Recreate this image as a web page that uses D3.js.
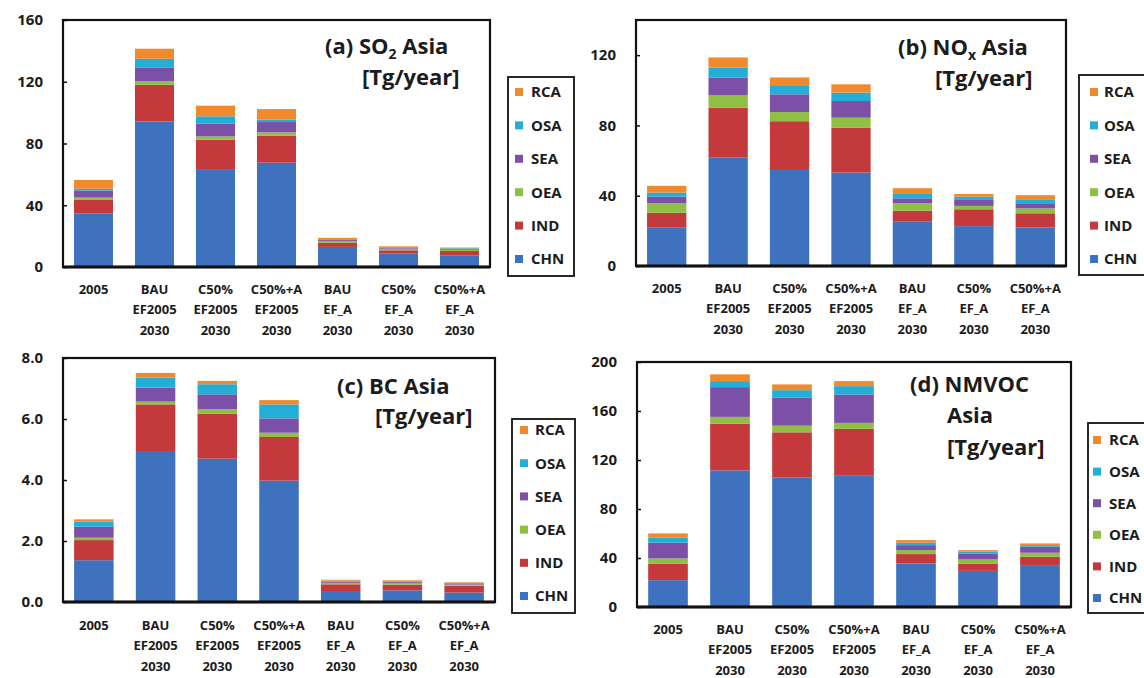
<!DOCTYPE html>
<html><head><meta charset="utf-8">
<script src="https://cdn.jsdelivr.net/npm/d3@7"></script>
<style>
body{margin:0;background:#fff}
svg{display:block}
text{font-family:"Open Sans",sans-serif;fill:#1c1c1c;font-weight:700}
</style>
</head><body>
<svg id="chart" width="1144" height="678"></svg>
<script>
// ---------- data ----------
const categories = [
  ["2005"],
  ["BAU","EF2005","2030"],
  ["C50%","EF2005","2030"],
  ["C50%+A","EF2005","2030"],
  ["BAU","EF_A","2030"],
  ["C50%","EF_A","2030"],
  ["C50%+A","EF_A","2030"]
];
const regions = ["CHN","IND","OEA","SEA","OSA","RCA"];

// segment values, one row per region (order as `regions`), one column per category
const so2Values = [
  [34.7, 94.3, 62.9, 67.6, 13.0, 8.7, 7.6],
  [ 8.7, 23.7, 19.5, 17.4,  2.6, 2.1, 2.8],
  [ 1.6,  2.3,  2.2,  2.2,  1.3, 1.1, 0.8],
  [ 4.5,  8.7,  8.2,  6.7,  0.6, 0.6, 0.5],
  [ 1.2,  5.9,  4.8,  1.5,  0.5, 0.4, 0.4],
  [ 5.7,  6.5,  6.9,  6.9,  0.9, 0.5, 0.5]
];
const noxValues = [
  [21.8, 61.8, 55.2, 53.2, 25.2, 22.7, 21.9],
  [ 8.5, 28.2, 27.2, 25.4,  6.3,  9.6,  8.1],
  [ 5.4,  7.3,  5.2,  5.8,  4.2,  1.9,  2.8],
  [ 3.8, 10.0, 10.1,  9.5,  2.8,  3.4,  2.9],
  [ 2.3,  5.7,  5.2,  4.8,  2.9,  1.9,  2.3],
  [ 3.8,  5.7,  4.4,  4.7,  2.9,  1.5,  2.3]
];
const bcValues = [
  [1.37, 4.92, 4.70, 3.98, 0.36, 0.38, 0.31],
  [0.66, 1.56, 1.48, 1.43, 0.22, 0.19, 0.22],
  [0.08, 0.09, 0.14, 0.14, 0.05, 0.04, 0.04],
  [0.36, 0.46, 0.49, 0.47, 0.04, 0.04, 0.03],
  [0.17, 0.33, 0.33, 0.46, 0.03, 0.03, 0.03],
  [0.07, 0.15, 0.11, 0.14, 0.03, 0.03, 0.02]
];
const nmvocValues = [
  [21.9, 111.5, 105.7, 107.1, 35.5, 29.5, 34.2],
  [13.6,  38.2,  36.9,  38.3,  7.7,  6.0,  6.8],
  [ 4.1,   5.5,   5.4,   4.9,  3.2,  3.3,  3.3],
  [12.9,  24.3,  22.8,  23.2,  4.1,  4.9,  4.9],
  [ 4.3,   4.9,   6.2,   6.8,  2.0,  1.4,  1.3],
  [ 3.3,   5.5,   4.7,   4.1,  2.1,  1.3,  1.4]
];

const so2Ticks = [0, 40, 80, 120, 160];
const noxTicks = [0, 40, 80, 120];
const bcTicks = [0, 2, 4, 6, 8];
const nmvocTicks = [0, 40, 80, 120, 160, 200];

// ---------- styles / layout ----------
const colors = {CHN:"#3E71BE", IND:"#C4393C", OEA:"#8FC043", SEA:"#7C50A6", OSA:"#22AED6", RCA:"#F08A2C"};

const panels = [
  {values:so2Values, ticks:so2Ticks, max:160, fmt:d3.format("d"),
   frame:{l:63,r:490,t:20,b:267}, xlab:27,
   title:[{x:325,y:54,parts:[["(a) SO",0],["2",1],[" Asia",0]]},{x:362,y:85,parts:[["[Tg/year]",0]]}],
   legend:{x:508,y:77,w:66,h:199,mx:519,tx:531,y0:92,dy:33.4}},
  {values:noxValues, ticks:noxTicks, max:140, fmt:d3.format("d"),
   frame:{l:636,r:1066,t:20,b:266}, xlab:27,
   title:[{x:898,y:55,parts:[["(b) NO",0],["x",1],[" Asia",0]]},{x:935,y:86,parts:[["[Tg/year]",0]]}],
   legend:{x:1079,y:75,w:80,h:200,mx:1094,tx:1104,y0:92,dy:33.4}},
  {values:bcValues, ticks:bcTicks, max:8, fmt:d3.format(".1f"),
   frame:{l:63,r:495,t:358,b:602}, xlab:28,
   title:[{x:337,y:394,parts:[["(c) BC Asia",0]]},{x:375,y:424,parts:[["[Tg/year]",0]]}],
   legend:{x:512,y:419,w:63,h:194,mx:524,tx:535,y0:430,dy:33.2}},
  {values:nmvocValues, ticks:nmvocTicks, max:200, fmt:d3.format("d"),
   frame:{l:637,r:1071,t:362,b:607}, xlab:27,
   title:[{x:910,y:392,parts:[["(d) NMVOC",0]]},{x:947,y:423,parts:[["Asia",0]]},{x:947,y:455,parts:[["[Tg/year]",0]]}],
   legend:{x:1088,y:423,w:70,h:190,mx:1097,tx:1109,y0:440,dy:31.6}}
];

const svg = d3.select("#chart");

panels.forEach(p => {
  const f = p.frame;
  const g = svg.append("g");
  const x = d3.scaleBand().domain(d3.range(categories.length)).range([f.l, f.r]).paddingInner(0.36).paddingOuter(0.18);
  const y = d3.scaleLinear().domain([0, p.max]).range([f.b, f.t]);

  const rows = categories.map((c, i) => {
    const o = {i};
    regions.forEach((r, k) => o[r] = p.values[k][i]);
    return o;
  });
  const stacked = d3.stack().keys(regions)(rows);

  g.selectAll("g.layer").data(stacked).join("g")
    .attr("class","layer")
    .attr("fill", d => colors[d.key])
    .selectAll("rect").data(d => d).join("rect")
    .attr("x", d => x(d.data.i))
    .attr("width", x.bandwidth())
    .attr("y", d => y(d[1]))
    .attr("height", d => Math.max(0, y(d[0]) - y(d[1])));

  // frame
  g.append("rect").attr("x", f.l).attr("y", f.t).attr("width", f.r - f.l).attr("height", f.b - f.t)
    .attr("fill","none").attr("stroke","#111").attr("stroke-width",2.2);
  g.append("line").attr("x1", f.l).attr("x2", f.r).attr("y1", f.b).attr("y2", f.b)
    .attr("stroke","#111").attr("stroke-width",3);

  // y axis
  const yAxis = d3.axisLeft(y).tickValues(p.ticks).tickFormat(p.fmt).tickSize(-4).tickPadding(20);
  const ya = g.append("g").attr("transform", `translate(${f.l},0)`).call(yAxis);
  ya.select(".domain").remove();
  ya.selectAll("line").attr("stroke","#111").attr("stroke-width",1.5);
  ya.selectAll("text").style("font-size","15px").style("font-weight","700").attr("fill","#1c1c1c");

  // x labels
  const xl = g.selectAll("text.xl").data(categories).join("text")
    .attr("class","xl")
    .attr("text-anchor","middle")
    .style("font-size","13px");
  xl.each(function(c, i) {
    const t = d3.select(this);
    c.forEach((line, j) => {
      t.append("tspan").attr("x", x(i) + x.bandwidth()/2).attr("y", f.b + p.xlab + j*20.3).text(line);
    });
  });

  // title
  p.title.forEach(line => {
    const t = g.append("text").attr("x", line.x).attr("y", line.y).style("font-size","22px");
    line.parts.forEach(([s, sub]) => {
      if (sub) t.append("tspan").attr("dy", 5).style("font-size","14px").text(s);
      else {
        const ts = t.append("tspan").text(s);
        if (t.selectAll("tspan").size() > 1) ts.attr("dy", -5);
      }
    });
  });

  // legend
  const L = p.legend;
  g.append("rect").attr("x", L.x).attr("y", L.y).attr("width", L.w).attr("height", L.h)
    .attr("fill","#fff").attr("stroke","#111").attr("stroke-width",1.8);
  const items = regions.slice().reverse();
  const li = g.selectAll("g.li").data(items).join("g").attr("class","li")
    .attr("transform", (d, k) => `translate(0,${L.y0 + k*L.dy})`);
  li.append("rect").attr("x", L.mx - 4).attr("y", -4).attr("width", 8).attr("height", 8)
    .attr("fill", d => colors[d]);
  li.append("text").attr("x", L.tx).attr("y", 0).attr("dy","0.36em").style("font-size","15px").text(d => d);
});
</script>
</body></html>
